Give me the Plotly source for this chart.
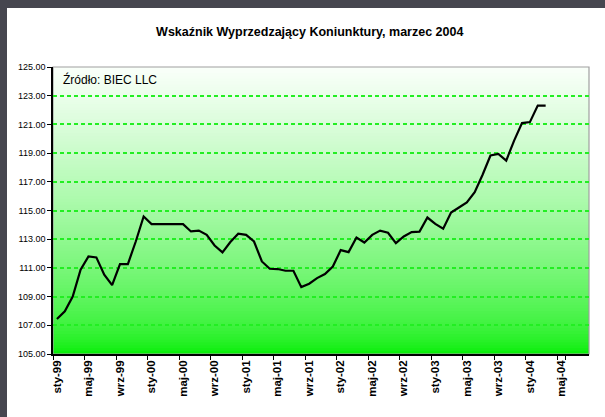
import plotly.graph_objects as go

# ---- data ----
months_pl = ["sty", "lut", "mar", "kwi", "maj", "cze", "lip", "sie", "wrz", "paź", "lis", "gru"]
years = ["99", "00", "01", "02", "03", "04"]
categories = [f"{m}-{y}" for y in years for m in months_pl][:68]

values = [107.44, 107.97, 109.00, 110.87, 111.80, 111.73, 110.52, 109.80, 111.27, 111.27, 112.84, 114.58,
          114.05, 114.05, 114.05, 114.05, 114.05, 113.54, 113.60, 113.30, 112.56, 112.08, 112.80, 113.38,
          113.30, 112.84, 111.45, 110.94, 110.92, 110.80, 110.80, 109.66, 109.90, 110.29, 110.57, 111.10,
          112.24, 112.10, 113.12, 112.77, 113.30, 113.60, 113.45, 112.73, 113.19, 113.50, 113.53, 114.51,
          114.07, 113.73, 114.86, 115.21, 115.56, 116.28, 117.49, 118.83, 118.95, 118.48, 119.87, 121.09,
          121.16, 122.31, 122.31]

tick_labels = categories[::4]
y_ticks = [105, 107, 109, 111, 113, 115, 117, 119, 121, 123, 125]

title_text = "Wskaźnik Wyprzedzający Koniunktury, marzec 2004"
source_text = "Źródło: BIEC LLC"

# ---- figure ----
W, H = 605, 417
ML, MR, MT, MB = 53, 16, 67, 63
pw = W - ML - MR
ph = H - MT - MB

fig = go.Figure()
fig.add_trace(go.Scatter(
    x=categories[:len(values)], y=values, mode="lines",
    line=dict(color="#000000", width=2.2), hoverinfo="x+y", showlegend=False,
))

shapes = []
# gradient background (light at top -> bright green at bottom), overlapping rects to avoid seams
N = 100
top = (250, 255, 250)
bot = (0, 238, 0)
for k in range(N - 1, -1, -1):
    t = ((k + 0.5) / N) ** 0.6
    c = tuple(int(round(bot[j] + (top[j] - bot[j]) * t)) for j in range(3))
    shapes.append(dict(type="rect", xref="x domain", yref="y domain",
                       x0=0, x1=1, y0=0, y1=(k + 1) / N,
                       line=dict(width=0), fillcolor=f"rgb{c}", layer="below"))
# gray plot border (top/right)
shapes.append(dict(type="rect", xref="x domain", yref="y domain", x0=0, x1=1, y0=0, y1=1,
                   line=dict(color="#a0a0a0", width=1.2), layer="below"))
# dark frame at left and top
dark = "#46464f"
shapes.append(dict(type="rect", xref="paper", yref="paper",
                   x0=-ML / pw - 0.01, x1=(7 - ML) / pw, y0=-MB / ph - 0.01, y1=(H - MB) / ph + 0.02,
                   line=dict(width=0), fillcolor=dark, layer="above"))
shapes.append(dict(type="rect", xref="paper", yref="paper",
                   x0=-ML / pw - 0.01, x1=(W - ML) / pw + 0.01, y0=(H - MB - 8) / ph, y1=(H - MB) / ph + 0.02,
                   line=dict(width=0), fillcolor=dark, layer="above"))

fig.update_layout(
    width=W, height=H,
    margin=dict(l=ML, r=MR, t=MT, b=MB, pad=0),
    paper_bgcolor="#ffffff", plot_bgcolor="#ffffff",
    shapes=shapes,
    title=dict(text=f"<b>{title_text}</b>", x=0.512, xref="container", xanchor="center",
               y=1 - 32 / H, yref="container", yanchor="middle",
               font=dict(family="Liberation Sans, Arial", size=12.5, color="#000000")),
    annotations=[dict(text=source_text, xref="paper", yref="paper", x=8 / pw, y=1 - 12 / ph,
                      xanchor="left", yanchor="middle", showarrow=False,
                      font=dict(family="Liberation Sans, Arial", size=12, color="#000000"))],
    xaxis=dict(
        type="category", categoryorder="array", categoryarray=categories,
        range=[-0.5, len(categories) - 0.5],
        tickmode="array", tickvals=tick_labels, ticktext=[f"<b>{t}</b>" for t in tick_labels],
        tickson="boundaries", ticks="outside", ticklen=4, tickcolor="#000000", tickwidth=1,
        tickangle=-90, tickfont=dict(family="Liberation Sans, Arial", size=11.5, color="#000000"),
        showgrid=False, showline=True, linecolor="#000000", linewidth=1.5, zeroline=False,
    ),
    yaxis=dict(
        range=[105, 125], tickmode="array", tickvals=y_ticks, tickformat=".2f",
        ticks="outside", ticklen=4, tickcolor="#000000", tickwidth=1,
        tickfont=dict(family="Liberation Sans, Arial", size=9, color="#000000"),
        showgrid=True, gridcolor="#22ee22", gridwidth=1.5, griddash="4px,3px",
        showline=True, linecolor="#000000", linewidth=1.5, zeroline=False,
    ),
)

fig.write_html(
    "out.html",
    config={"displayModeBar": False},
    post_script="document.body.style.margin='0';document.body.style.overflow='hidden';"
                "document.documentElement.style.overflow='hidden';",
)
